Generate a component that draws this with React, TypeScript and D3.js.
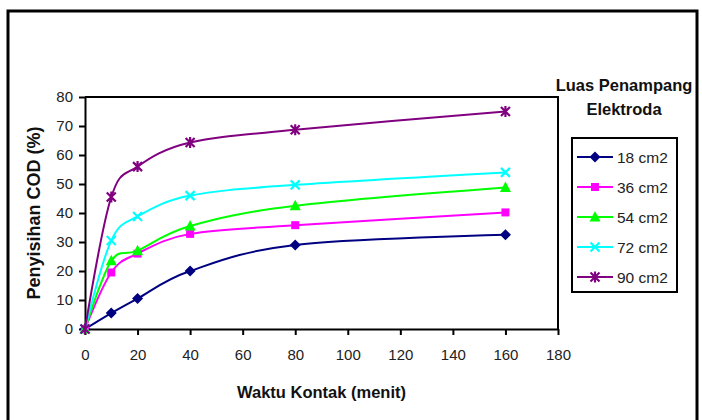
import React, { useRef, useEffect } from "react"
import * as d3 from "d3"

const times = [0, 10, 20, 40, 80, 160]
const seriesNames = ["18 cm2", "36 cm2", "54 cm2", "72 cm2", "90 cm2"]
const values18 = [0, 5.5, 10.5, 20, 29, 32.5]
const values36 = [0, 19.5, 26, 32.8, 35.8, 40.2]
const values54 = [0, 23.5, 27, 35.5, 42.5, 48.8]
const values72 = [0, 30.5, 38.8, 46, 49.7, 54]
const values90 = [0, 45.5, 56, 64.3, 68.7, 75]
const xTicks = [0, 20, 40, 60, 80, 100, 120, 140, 160, 180]
const yTicks = [0, 10, 20, 30, 40, 50, 60, 70, 80]
const colors = ["#000080", "#ff00ff", "#00ff00", "#00ffff", "#800080"]
const markers = ["diamond", "square", "triangle", "cross", "star"]

type Point = { t: number; v: number }

const drawMarker = (
  g: d3.Selection<SVGGElement, unknown, null, undefined>,
  kind: string,
  x: number,
  y: number,
  color: string
) => {
  if (kind === "diamond") {
    g.append("path")
      .attr("d", `M${x},${y - 5.5}L${x + 5.5},${y}L${x},${y + 5.5}L${x - 5.5},${y}Z`)
      .attr("fill", color)
  } else if (kind === "square") {
    g.append("rect").attr("x", x - 4).attr("y", y - 4).attr("width", 8).attr("height", 8).attr("fill", color)
  } else if (kind === "triangle") {
    g.append("path")
      .attr("d", `M${x},${y - 6}L${x + 5.5},${y + 4.5}L${x - 5.5},${y + 4.5}Z`)
      .attr("fill", color)
  } else {
    const s = 4.5
    const p = `M${x - s},${y - s}L${x + s},${y + s}M${x - s},${y + s}L${x + s},${y - s}` +
      (kind === "star" ? `M${x},${y - s - 1}L${x},${y + s + 1}` : "")
    g.append("path").attr("d", p).attr("stroke", color).attr("stroke-width", 2.2).attr("fill", "none")
  }
}

const App: React.FC = () => {
  const svgRef = useRef<SVGSVGElement | null>(null)

  useEffect(() => {
    if (!svgRef.current) return
    const svg = d3.select(svgRef.current)
    svg.selectAll("*").remove()

    const font = "Arial, 'Liberation Sans', sans-serif"
    const plot = { left: 85, top: 97, right: 558, bottom: 329 }

    const x = d3.scaleLinear().domain([0, 180]).range([plot.left, plot.right])
    const y = d3.scaleLinear().domain([0, 80]).range([plot.bottom, plot.top])

    // outer chart frame
    svg.append("rect").attr("x", 8).attr("y", 11).attr("width", 689).attr("height", 430)
      .attr("fill", "#fff").attr("stroke", "#000").attr("stroke-width", 3)

    // plot border (top/right)
    svg.append("path")
      .attr("d", `M${plot.left},${plot.top}H${plot.right}V${plot.bottom}`)
      .attr("fill", "none").attr("stroke", "#000").attr("stroke-width", 2)

    // X axis
    const xAxis = svg.append("g")
      .attr("transform", `translate(0,${plot.bottom})`)
      .call(d3.axisBottom(x).tickValues(xTicks).tickSize(6).tickPadding(14).tickSizeOuter(0))
    xAxis.select(".domain").attr("stroke", "#000").attr("stroke-width", 2)
    xAxis.selectAll(".tick line").attr("stroke", "#000").attr("stroke-width", 2)
    xAxis.selectAll("text").attr("font-size", 15).attr("font-family", font).attr("fill", "#222")

    // Y axis
    const yAxis = svg.append("g")
      .attr("transform", `translate(${plot.left},0)`)
      .call(d3.axisLeft(y).tickValues(yTicks).tickSize(6).tickPadding(6).tickSizeOuter(0))
    yAxis.select(".domain").attr("stroke", "#000").attr("stroke-width", 2)
    yAxis.selectAll(".tick line").attr("stroke", "#000").attr("stroke-width", 2)
    yAxis.selectAll("text").attr("font-size", 15).attr("font-family", font).attr("fill", "#222")

    // axis titles
    svg.append("text").attr("x", (plot.left + plot.right) / 2).attr("y", 398)
      .attr("text-anchor", "middle").attr("font-family", font).attr("font-weight", "bold")
      .attr("font-size", 16.5).attr("fill", "#111").text("Waktu Kontak (menit)")
    svg.append("text").attr("transform", `translate(40,${(plot.top + plot.bottom) / 2}) rotate(-90)`)
      .attr("text-anchor", "middle").attr("font-family", font).attr("font-weight", "bold")
      .attr("font-size", 18).attr("fill", "#111").text("Penyisihan COD (%)")

    const allValues = [values18, values36, values54, values72, values90]
    const line = d3.line<Point>()
      .x((d) => x(d.t))
      .y((d) => y(d.v))
      .curve(d3.curveCatmullRom.alpha(0))

    allValues.forEach((vals, i) => {
      const data: Point[] = times.map((t, j) => ({ t, v: vals[j] }))
      const g = svg.append("g")
      g.append("path").datum(data).attr("d", line).attr("fill", "none")
        .attr("stroke", colors[i]).attr("stroke-width", 2)
      data.forEach((d) => drawMarker(g, markers[i], x(d.t), y(d.v), colors[i]))
    })

    // legend
    svg.append("text").attr("x", 624).attr("y", 91).attr("text-anchor", "middle")
      .attr("font-family", font).attr("font-weight", "bold").attr("font-size", 16.5)
      .attr("fill", "#111").text("Luas Penampang")
    svg.append("text").attr("x", 624).attr("y", 115).attr("text-anchor", "middle")
      .attr("font-family", font).attr("font-weight", "bold").attr("font-size", 16.5)
      .attr("fill", "#111").text("Elektroda")
    svg.append("rect").attr("x", 572).attr("y", 138).attr("width", 105).attr("height", 154)
      .attr("fill", "#fff").attr("stroke", "#000").attr("stroke-width", 2)
    seriesNames.forEach((name, i) => {
      const ly = 157 + i * 30
      const g = svg.append("g")
      g.append("line").attr("x1", 577).attr("x2", 613).attr("y1", ly).attr("y2", ly)
        .attr("stroke", colors[i]).attr("stroke-width", 2)
      drawMarker(g, markers[i], 595, ly, colors[i])
      g.append("text").attr("x", 617).attr("y", ly).attr("dy", "0.36em")
        .attr("font-family", font).attr("font-size", 15.5).attr("fill", "#222").text(name)
    })
  }, [])

  return (
    <svg
      ref={svgRef}
      width={702}
      height={420}
      style={{ position: "absolute", left: 0, top: 0, background: "#fff" }}
    ></svg>
  )
}

export default App
